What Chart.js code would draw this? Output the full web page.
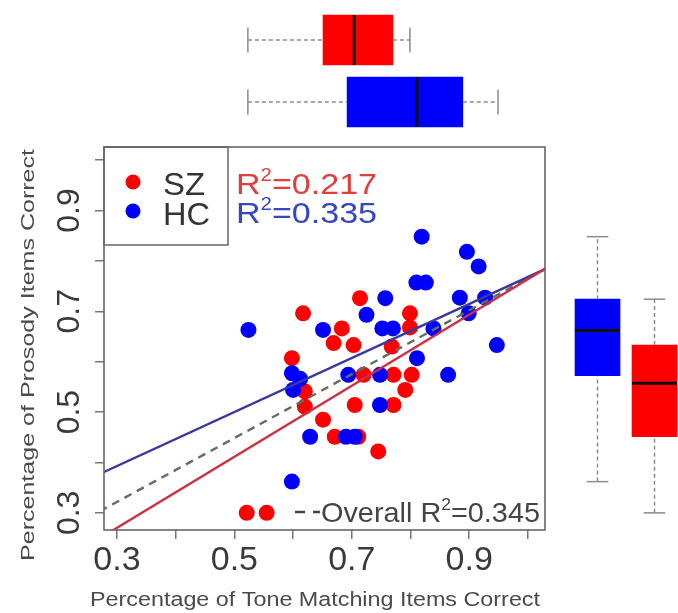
<!DOCTYPE html>
<html>
<head>
<meta charset="utf-8">
<script src="https://cdn.jsdelivr.net/npm/chart.js@4.4.1/dist/chart.umd.min.js"></script>
<style>
  html, body { margin: 0; padding: 0; background: #fff; }
  #wrap { position: relative; width: 678px; height: 613px; overflow: hidden; }
  canvas { position: absolute; top: 0; }
</style>
</head>
<body>
<div id="wrap">
  <canvas id="mainChart" width="678" height="613" style="left:0"></canvas>
  <canvas id="topBox" width="678" height="147" style="left:0"></canvas>
  <canvas id="rightBox" width="138" height="613" style="left:540px"></canvas>
</div>
<script>
const FONT = '"Liberation Sans", Arial, sans-serif';

// scatter values (tone matching = x, prosody = y)
const szTone     = [0.714, 0.617, 0.799, 0.799, 0.683, 0.669, 0.703, 0.768, 0.598, 0.720, 0.771, 0.802, 0.791, 0.620, 0.620, 0.705, 0.771, 0.651, 0.671, 0.711, 0.745, 0.521, 0.555];
const szProsody  = [0.726, 0.696, 0.696, 0.668, 0.666, 0.637, 0.633, 0.630, 0.607, 0.574, 0.574, 0.574, 0.544, 0.541, 0.511, 0.514, 0.514, 0.485, 0.451, 0.451, 0.422, 0.300, 0.300];
const hcTone     = [0.819, 0.896, 0.916, 0.810, 0.826, 0.757, 0.884, 0.927, 0.899, 0.725, 0.524, 0.651, 0.752, 0.770, 0.839, 0.947, 0.811, 0.598, 0.612, 0.600, 0.694, 0.748, 0.864, 0.748, 0.629, 0.690, 0.705, 0.598];
const hcProsody  = [0.848, 0.818, 0.789, 0.757, 0.757, 0.726, 0.727, 0.727, 0.696, 0.693, 0.663, 0.663, 0.666, 0.666, 0.666, 0.633, 0.607, 0.577, 0.566, 0.544, 0.574, 0.574, 0.574, 0.514, 0.451, 0.451, 0.451, 0.362];

// fitted line end points
const fitX     = [0.25, 1.05];
const szFitY   = [0.235, 0.799];
const hcFitY   = [0.366, 0.795];
const allFitY  = [0.290, 0.797];

// marginal box plots: tone (top, SZ then HC), prosody (right, HC then SZ)
const toneLow  = [0.523, 0.523];
const toneQ1   = [0.651, 0.692];
const toneMed  = [0.704, 0.811];
const toneQ3   = [0.770, 0.889];
const toneHigh = [0.799, 0.949];
const prosLow  = [0.362, 0.300];
const prosQ1   = [0.572, 0.451];
const prosMed  = [0.662, 0.557];
const prosQ3   = [0.724, 0.633];
const prosHigh = [0.848, 0.724];

const tickVals   = [0.3, 0.4, 0.5, 0.6, 0.7, 0.8, 0.9, 1.0];
const tickLabels = ['0.3', '', '0.5', '', '0.7', '', '0.9', ''];

const RED = '#ff0000', BLUE = '#0000ff';

function pts(xs, ys) { return xs.map((x, i) => ({ x: x, y: ys[i] })); }

// draws runs of text, optionally squeezed/stretched to a given width
function textRun(ctx, parts, x, y, width, align, angle, color) {
  ctx.save();
  ctx.translate(x, y);
  if (angle) ctx.rotate(angle);
  let natural = 0;
  parts.forEach(p => { ctx.font = p.size + 'px ' + FONT; p.w = ctx.measureText(p.t).width; natural += p.w; });
  ctx.scale(width ? width / natural : 1, 1);
  let cx = align === 'center' ? -natural / 2 : 0;
  ctx.fillStyle = color;
  ctx.textAlign = 'left';
  ctx.textBaseline = 'alphabetic';
  parts.forEach(p => { ctx.font = p.size + 'px ' + FONT; ctx.fillText(p.t, cx, p.dy || 0); cx += p.w; });
  ctx.restore();
}

function r2(value, size) {
  return [{ t: 'R', size: size }, { t: '2', size: Math.round(size * 0.6), dy: -size * 0.42 }, { t: '=' + value, size: size }];
}

const mainDecor = {
  id: 'mainDecor',
  afterDraw(chart) {
    const { ctx, chartArea: a, scales: { x, y } } = chart;
    ctx.save();
    ctx.strokeStyle = '#666';
    ctx.lineWidth = 1.6;
    ctx.strokeRect(a.left, a.top, a.right - a.left, a.bottom - a.top);

    tickVals.forEach((v, i) => {
      if (!tickLabels[i]) return;
      textRun(ctx, [{ t: tickLabels[i], size: 34 }], x.getPixelForValue(v), 570, null, 'center', 0, '#3a3a3a');
      textRun(ctx, [{ t: tickLabels[i], size: 32 }], 79, y.getPixelForValue(v), null, 'center', -Math.PI / 2, '#3a3a3a');
    });

    textRun(ctx, [{ t: 'Percentage of Tone Matching Items Correct', size: 20 }], 315, 606, 450, 'center', 0, '#4a4a4a');
    textRun(ctx, [{ t: 'Percentage of Prosody Items Correct', size: 18 }], 34, 355, 412, 'center', -Math.PI / 2, '#4a4a4a');

    // legend box
    ctx.strokeStyle = '#666';
    ctx.lineWidth = 1.5;
    ctx.strokeRect(a.left, a.top, 124, 98);
    [[RED, 182, 'SZ', 42, 195], [BLUE, 211, 'HC', 47, 225]].forEach(l => {
      ctx.fillStyle = l[0];
      ctx.beginPath();
      ctx.arc(133, l[1], 7.5, 0, Math.PI * 2);
      ctx.fill();
      textRun(ctx, [{ t: l[2], size: 32 }], 163, l[4], l[3], 'left', 0, '#333');
    });

    textRun(ctx, r2('0.217', 30), 236, 194, 141, 'left', 0, '#e33c3c');
    textRun(ctx, r2('0.335', 30), 236, 223, 141, 'left', 0, '#3446c6');

    ctx.strokeStyle = '#444';
    ctx.lineWidth = 2.5;
    ctx.setLineDash([10, 8]);
    ctx.beginPath();
    ctx.moveTo(295, 512);
    ctx.lineTo(320, 512);
    ctx.stroke();
    ctx.setLineDash([]);
    textRun(ctx, [{ t: 'Overall ', size: 28 }].concat(r2('0.345', 28)), 321, 522, 219, 'left', 0, '#444');
    ctx.restore();
  }
};

const axisCommon = {
  type: 'linear',
  afterBuildTicks: s => { s.ticks = tickVals.map(v => ({ value: v })); },
  grid: { drawOnChartArea: false, drawTicks: true, tickLength: 9, color: '#777', lineWidth: 1.5 },
  border: { display: false },
  ticks: { display: false }
};

function fitLine(ys, color, dash) {
  return {
    type: 'scatter', data: pts(fitX, ys), showLine: true, pointRadius: 0,
    borderColor: color, borderWidth: 2.4, borderDash: dash || [], order: 0
  };
}

new Chart(document.getElementById('mainChart'), {
  type: 'scatter',
  data: {
    datasets: [
      fitLine(szFitY, '#cc3040'),
      fitLine(hcFitY, '#3838a0'),
      fitLine(allFitY, '#5f6f5f', [8, 6]),
      { label: 'HC', data: pts(hcTone, hcProsody), backgroundColor: BLUE, pointRadius: 8, borderWidth: 0, order: 1 },
      { label: 'SZ', data: pts(szTone, szProsody), backgroundColor: RED, pointRadius: 8, borderWidth: 0, order: 2 }
    ]
  },
  options: {
    responsive: false,
    animation: false,
    devicePixelRatio: 1,
    layout: { padding: { top: 147, right: 133, bottom: 0, left: 0 }, autoPadding: false },
    plugins: { legend: { display: false }, tooltip: { enabled: false } },
    scales: {
      x: { ...axisCommon, min: 0.278, max: 1.029, afterFit: s => { s.height = 83; } },
      y: { ...axisCommon, min: 0.266, max: 1.026, afterFit: s => { s.width = 104; } }
    }
  },
  plugins: [mainDecor]
});

// whiskers, caps and medians for one box plot chart
function boxLines(low, q1, med, q3, high, horizontal, capHalf, medHalf) {
  const seg = (a, b, p) => horizontal
    ? [{ x: a, y: p }, { x: b, y: p }]
    : [{ x: p, y: a }, { x: p, y: b }];
  const cross = (v, p, h) => horizontal
    ? [{ x: v, y: p - h }, { x: v, y: p + h }]
    : [{ x: p - h, y: v }, { x: p + h, y: v }];
  const out = [];
  const base = { type: 'line', pointRadius: 0, fill: false, order: 0 };
  low.forEach((lo, i) => {
    out.push({ ...base, data: seg(lo, q1[i], i), borderColor: '#8c8c8c', borderWidth: 1.5, borderDash: [4, 3] });
    out.push({ ...base, data: seg(q3[i], high[i], i), borderColor: '#8c8c8c', borderWidth: 1.5, borderDash: [4, 3] });
    out.push({ ...base, data: cross(lo, i, capHalf), borderColor: '#8c8c8c', borderWidth: 1.5 });
    out.push({ ...base, data: cross(high[i], i, capHalf), borderColor: '#8c8c8c', borderWidth: 1.5 });
    out.push({ ...base, data: cross(med[i], i, medHalf), borderColor: '#111', borderWidth: 3 });
  });
  return out;
}

const hidden = { display: false, offset: false, grace: 0 };

new Chart(document.getElementById('topBox'), {
  type: 'bar',
  data: {
    datasets: [
      { data: toneQ1.map((q, i) => ({ x: [q, toneQ3[i]], y: i })), backgroundColor: [RED, BLUE], borderWidth: 0, barThickness: 50, order: 5 }
    ].concat(boxLines(toneLow, toneQ1, toneMed, toneQ3, toneHigh, true, 0.2, 0.403))
  },
  options: {
    indexAxis: 'y',
    responsive: false,
    animation: false,
    devicePixelRatio: 1,
    layout: { padding: { top: 0, right: 133, bottom: 0, left: 104 }, autoPadding: false },
    plugins: { legend: { display: false }, tooltip: { enabled: false } },
    scales: {
      x: { type: 'linear', min: 0.278, max: 1.029, ...hidden },
      y: { type: 'linear', min: -0.645, max: 1.726, reverse: true, ...hidden }
    }
  }
});

new Chart(document.getElementById('rightBox'), {
  type: 'bar',
  data: {
    datasets: [
      { data: prosQ1.map((q, i) => ({ x: i, y: [q, prosQ3[i]] })), backgroundColor: [BLUE, RED], borderWidth: 0, barThickness: 45, order: 5 }
    ].concat(boxLines(prosLow, prosQ1, prosMed, prosQ3, prosHigh, false, 0.19, 0.395))
  },
  options: {
    responsive: false,
    animation: false,
    devicePixelRatio: 1,
    layout: { padding: { top: 147, right: 0, bottom: 83, left: 0 }, autoPadding: false },
    plugins: { legend: { display: false }, tooltip: { enabled: false } },
    scales: {
      x: { type: 'linear', min: -1.0088, max: 1.412, ...hidden },
      y: { type: 'linear', min: 0.266, max: 1.026, ...hidden }
    }
  }
});
</script>
</body>
</html>
